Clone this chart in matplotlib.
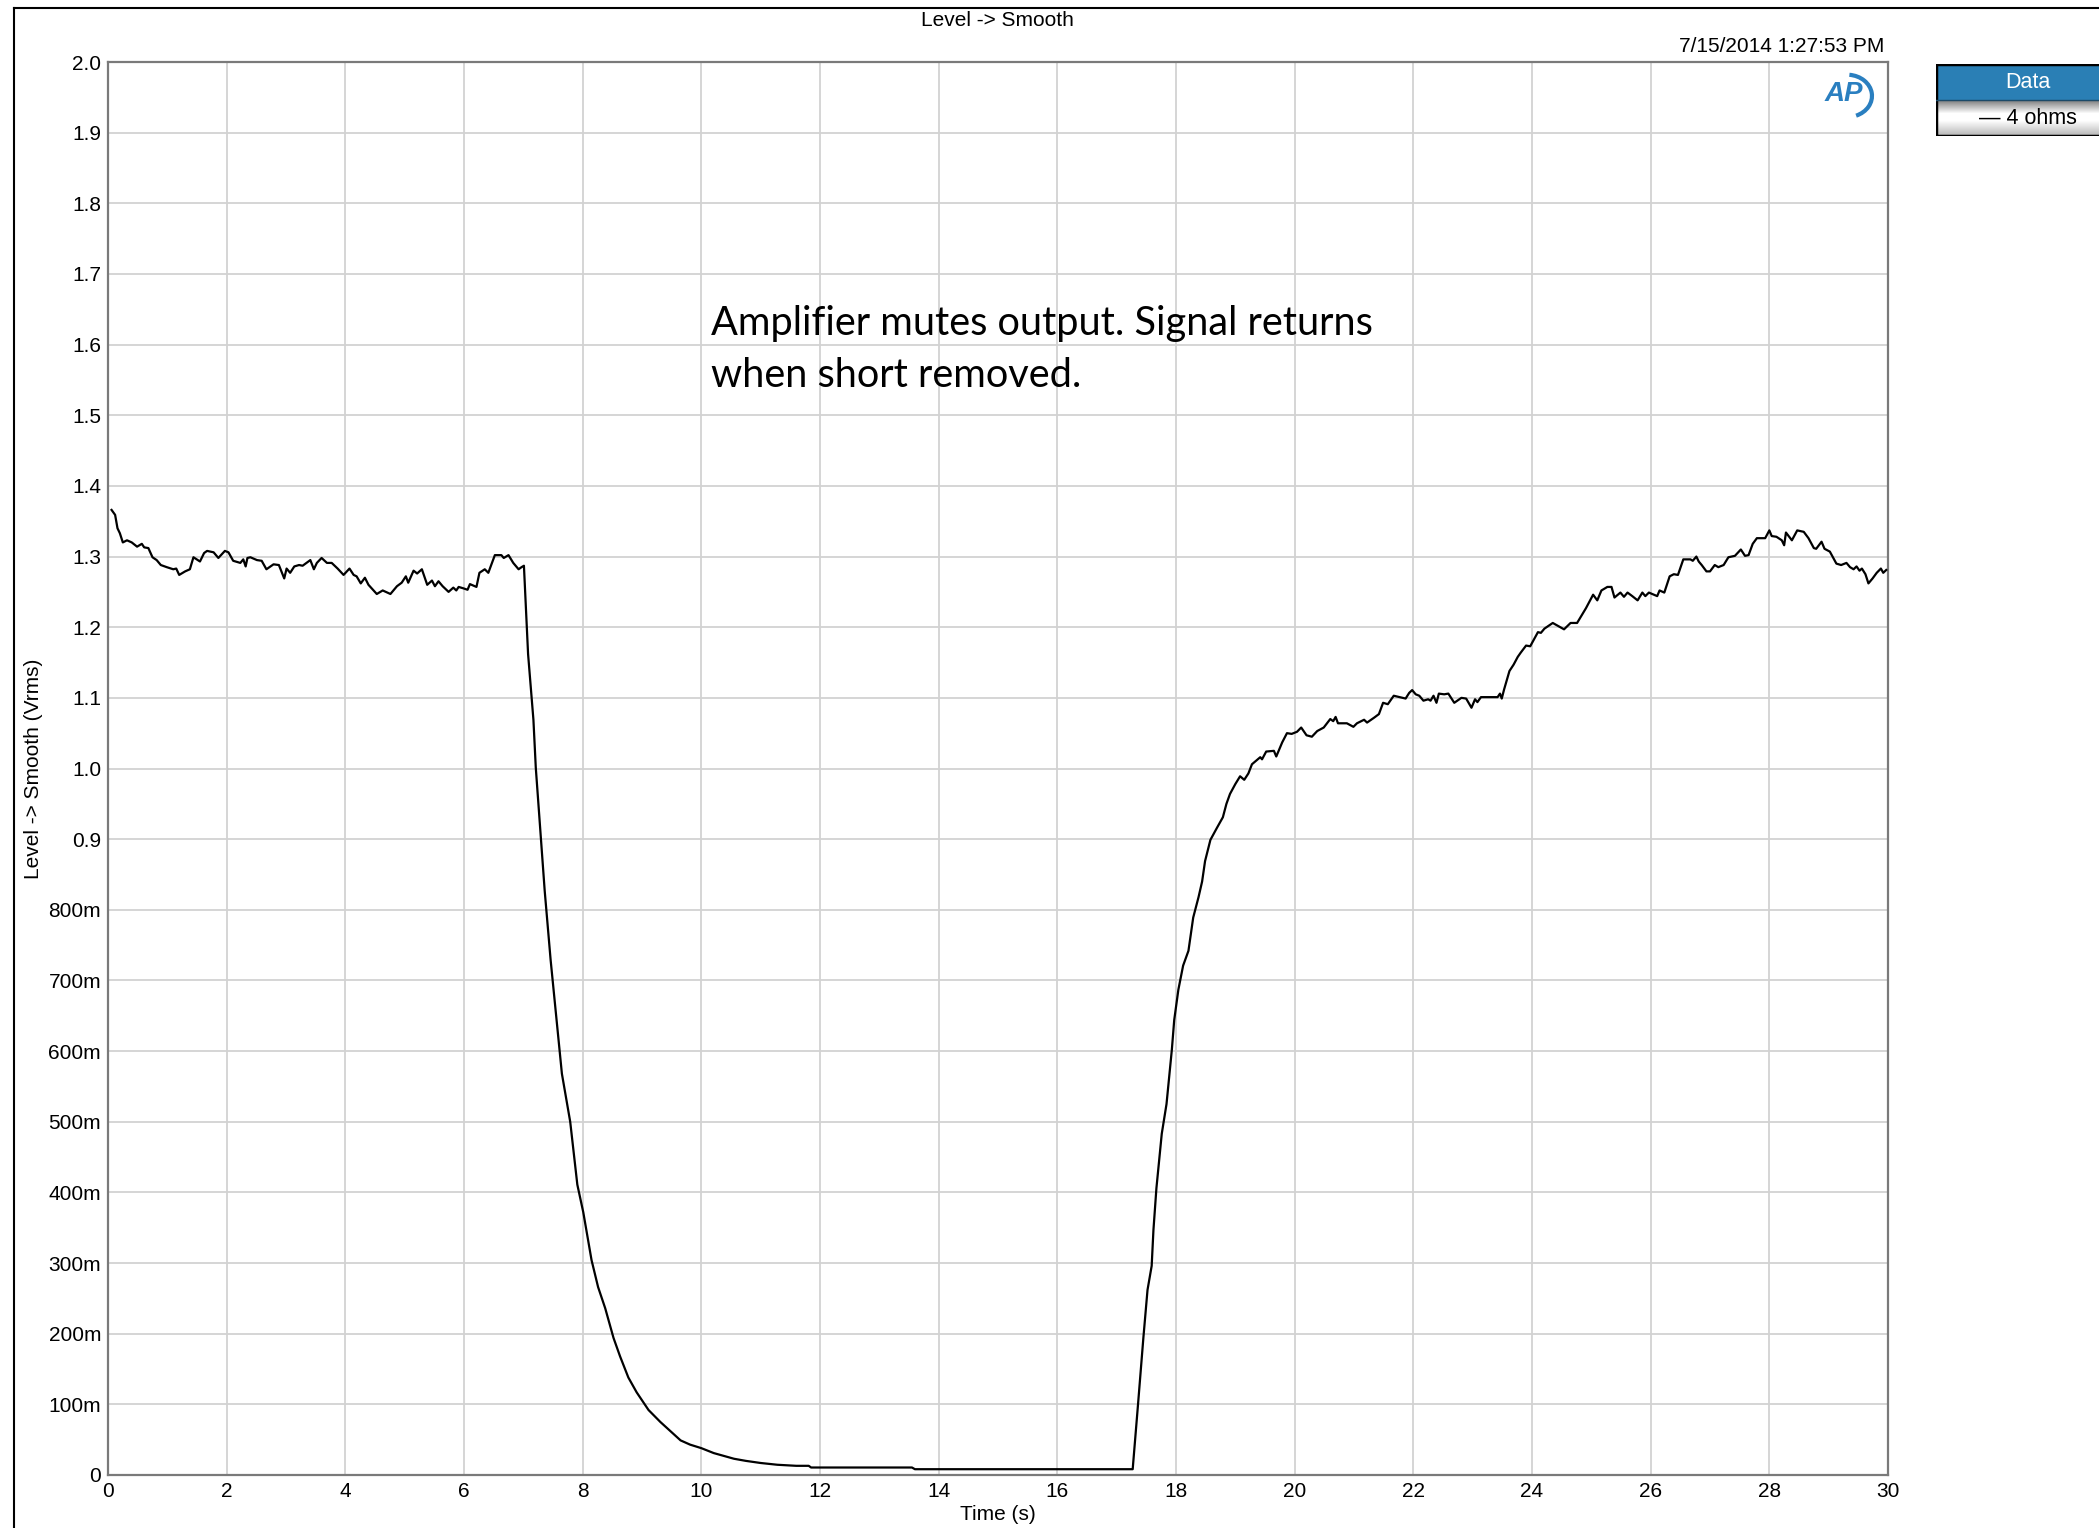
import numpy as np
import matplotlib
matplotlib.use("Agg")
import matplotlib.pyplot as plt
from matplotlib.lines import Line2D
from matplotlib.patches import Rectangle, Arc
from matplotlib.ticker import FixedLocator, FixedFormatter

# --- measured trace: Level -> Smooth, 4 ohm load ---
# before the short
t_hold = [0.06, 0.12, 0.16, 0.20, 0.25, 0.32, 0.40, 0.49, 0.57, 0.61, 0.68, 0.75, 0.82, 0.89,
          0.99, 1.10, 1.15, 1.20, 1.30, 1.38, 1.44, 1.55, 1.62, 1.67, 1.78, 1.86, 1.97, 2.03,
          2.11, 2.23, 2.28, 2.32, 2.35, 2.40, 2.51, 2.59, 2.67, 2.79, 2.88, 2.97, 3.01, 3.07,
          3.14, 3.22, 3.28, 3.41, 3.47, 3.52, 3.60, 3.69, 3.77, 3.87, 3.97, 4.07, 4.14, 4.19,
          4.26, 4.33, 4.39, 4.53, 4.63, 4.76, 4.87, 4.95, 5.02, 5.06, 5.15, 5.21, 5.29, 5.38,
          5.46, 5.51, 5.57, 5.64, 5.74, 5.82, 5.87, 5.91, 5.99, 6.06, 6.10, 6.21, 6.26, 6.35,
          6.41, 6.52, 6.63, 6.67, 6.75, 6.83, 6.92, 6.97, 7.01]
v_hold = [1.366, 1.359, 1.340, 1.333, 1.320, 1.323, 1.320, 1.314, 1.318, 1.313, 1.312, 1.299,
          1.295, 1.288, 1.285, 1.282, 1.283, 1.274, 1.279, 1.282, 1.299, 1.293, 1.305, 1.308,
          1.306, 1.298, 1.308, 1.306, 1.294, 1.291, 1.296, 1.286, 1.298, 1.299, 1.295, 1.294,
          1.282, 1.289, 1.288, 1.269, 1.283, 1.277, 1.286, 1.288, 1.287, 1.295, 1.282, 1.291,
          1.298, 1.291, 1.291, 1.283, 1.274, 1.283, 1.274, 1.272, 1.262, 1.270, 1.260, 1.247,
          1.252, 1.247, 1.258, 1.263, 1.272, 1.263, 1.280, 1.276, 1.282, 1.260, 1.266, 1.258,
          1.265, 1.258, 1.250, 1.256, 1.252, 1.257, 1.255, 1.253, 1.261, 1.257, 1.277, 1.282,
          1.277, 1.302, 1.302, 1.298, 1.302, 1.291, 1.282, 1.285, 1.287]

# output muted while shorted
t_mute = [7.08, 7.17, 7.21, 7.36, 7.46, 7.56, 7.65, 7.79, 7.91, 8.01, 8.08, 8.15, 8.26, 8.38,
          8.52, 8.63, 8.77, 8.91, 9.11, 9.31, 9.48, 9.65, 9.81, 10.00, 10.21, 10.38, 10.55,
          10.75, 11.00, 11.28, 11.60, 11.81, 11.85, 13.55, 13.60, 17.27]
v_mute = [1.162, 1.069, 1.001, 0.827, 0.729, 0.644, 0.568, 0.500, 0.411, 0.372, 0.338, 0.304,
          0.266, 0.236, 0.194, 0.168, 0.138, 0.117, 0.092, 0.075, 0.062, 0.049, 0.043, 0.038,
          0.031, 0.027, 0.023, 0.020, 0.017, 0.0145, 0.013, 0.013, 0.0106, 0.0106, 0.0082, 0.0082]

# recovery after the short is removed
t_back = [17.36, 17.45, 17.52, 17.59, 17.62, 17.67, 17.72, 17.76, 17.84, 17.90, 17.93, 17.97,
          18.04, 18.12, 18.21, 18.29, 18.38, 18.44, 18.49, 18.58, 18.69, 18.79, 18.85, 18.91,
          19.00, 19.08, 19.15, 19.22, 19.28, 19.35, 19.42, 19.45, 19.52, 19.65, 19.69, 19.79,
          19.87, 19.95, 20.04, 20.11, 20.20, 20.29, 20.38, 20.49, 20.60, 20.65, 20.69, 20.73,
          20.88, 20.99, 21.05, 21.17, 21.22, 21.34, 21.42, 21.49, 21.57, 21.67, 21.87, 21.93,
          21.98, 22.04, 22.10, 22.17, 22.25, 22.29, 22.34, 22.39, 22.43, 22.52, 22.59, 22.69,
          22.81, 22.89, 22.98, 23.04, 23.08, 23.14, 23.42, 23.46, 23.49, 23.53, 23.62, 23.69,
          23.76, 23.81, 23.90, 23.97, 24.10, 24.15, 24.21, 24.35, 24.54, 24.65, 24.76, 24.91,
          25.03, 25.10, 25.17, 25.27, 25.34, 25.39, 25.49, 25.55, 25.61, 25.69, 25.78, 25.86,
          25.91, 25.97, 26.11, 26.15, 26.23, 26.32, 26.39, 26.46, 26.55, 26.67, 26.71, 26.77,
          26.81, 26.86, 26.94, 27.00, 27.08, 27.14, 27.23, 27.31, 27.42, 27.52, 27.59, 27.65,
          27.72, 27.79, 27.93, 28.00, 28.04, 28.12, 28.21, 28.25, 28.28, 28.38, 28.47, 28.58,
          28.66, 28.75, 28.79, 28.88, 28.93, 29.02, 29.13, 29.21, 29.30, 29.36, 29.42, 29.47,
          29.52, 29.56, 29.62, 29.67, 29.74, 29.81, 29.88, 29.92, 29.97]
v_back = [0.100, 0.194, 0.262, 0.296, 0.347, 0.406, 0.449, 0.483, 0.525, 0.576, 0.602, 0.644,
          0.687, 0.721, 0.742, 0.789, 0.818, 0.840, 0.869, 0.899, 0.916, 0.931, 0.950, 0.964,
          0.978, 0.989, 0.984, 0.993, 1.006, 1.011, 1.016, 1.013, 1.024, 1.025, 1.017, 1.037,
          1.050, 1.049, 1.052, 1.058, 1.047, 1.045, 1.053, 1.058, 1.070, 1.067, 1.073, 1.064,
          1.064, 1.059, 1.064, 1.069, 1.065, 1.072, 1.077, 1.093, 1.091, 1.103, 1.099, 1.107,
          1.111, 1.105, 1.103, 1.096, 1.098, 1.096, 1.103, 1.093, 1.106, 1.105, 1.106, 1.093,
          1.100, 1.099, 1.086, 1.098, 1.094, 1.101, 1.101, 1.106, 1.099, 1.112, 1.138, 1.147,
          1.158, 1.164, 1.174, 1.173, 1.193, 1.192, 1.198, 1.206, 1.197, 1.206, 1.206, 1.227,
          1.246, 1.238, 1.252, 1.257, 1.257, 1.242, 1.249, 1.243, 1.249, 1.244, 1.238, 1.249,
          1.244, 1.249, 1.244, 1.252, 1.249, 1.272, 1.275, 1.274, 1.296, 1.296, 1.294, 1.300,
          1.293, 1.288, 1.279, 1.279, 1.288, 1.285, 1.288, 1.299, 1.301, 1.310, 1.301, 1.302,
          1.318, 1.326, 1.326, 1.337, 1.329, 1.328, 1.323, 1.316, 1.334, 1.323, 1.337, 1.335,
          1.326, 1.312, 1.311, 1.321, 1.311, 1.307, 1.290, 1.288, 1.291, 1.285, 1.282, 1.286,
          1.280, 1.283, 1.275, 1.262, 1.269, 1.277, 1.283, 1.277, 1.281]

y_ticks = [0.0, 0.1, 0.2, 0.3, 0.4, 0.5, 0.6, 0.7, 0.8, 0.9, 1.0, 1.1, 1.2, 1.3, 1.4, 1.5,
           1.6, 1.7, 1.8, 1.9, 2.0]
y_tick_labels = ["0", "100m", "200m", "300m", "400m", "500m", "600m", "700m", "800m", "0.9",
                 "1.0", "1.1", "1.2", "1.3", "1.4", "1.5", "1.6", "1.7", "1.8", "1.9", "2.0"]
x_ticks = list(range(0, 31, 2))

t = np.array(t_hold + t_mute + t_back)
v = np.array(v_hold + v_mute + v_back)

W, H = 2099, 1528
FS = 15
plt.rcParams["font.family"] = ["Liberation Sans", "DejaVu Sans"]
fig = plt.figure(figsize=(W / 100, H / 100), dpi=100)

ax = fig.add_axes([108 / W, 1 - 1475 / H, (1888 - 108) / W, (1475 - 62) / H])
ax.plot(t, v, color="black", lw=1.6, zorder=3)
ax.set_xlim(0, 30)
ax.set_ylim(0, 2.0)
ax.xaxis.set_major_locator(FixedLocator(x_ticks))
ax.yaxis.set_major_locator(FixedLocator(y_ticks))
ax.yaxis.set_major_formatter(FixedFormatter(y_tick_labels))
ax.grid(True, color="#d2d2d2", lw=1.3)
ax.set_axisbelow(True)
ax.tick_params(length=0, labelsize=FS, pad=5)
for s in ax.spines.values():
    s.set_color("#7a7a7a")
    s.set_linewidth(1.6)

ax.set_xlabel("Time (s)", fontsize=FS, labelpad=3)
ax.set_ylabel("Level -> Smooth (Vrms)", fontsize=FS, labelpad=4)
fig.text(997 / W, 1 - 21 / H, "Level -> Smooth", ha="center", va="center", fontsize=FS)
fig.text(1884 / W, 1 - 46 / H, "7/15/2014 1:27:53 PM", ha="right", va="center", fontsize=FS)

# annotation
note_font = ["Lato", "DejaVu Sans"]
ax.text(10.16, 1.614, "Amplifier mutes output. Signal returns", fontsize=28.6,
        family=note_font, va="baseline", ha="left")
ax.text(10.16, 1.540, "when short removed.", fontsize=28.6,
        family=note_font, va="baseline", ha="left")

# AP badge in the corner
ap_blue = "#2a7fc0"
ax.text(0.975, 0.977, "AP", transform=ax.transAxes, ha="center", va="center",
        fontsize=20, fontweight="bold", style="italic", color=ap_blue)
ax.add_patch(Arc((0.977, 0.976), 0.028, 0.030, theta1=-70, theta2=85,
                 transform=ax.transAxes, color=ap_blue, lw=3))

# outer frame
fig.add_artist(Line2D([14 / W, 1.0], [1 - 8 / H] * 2, color="black", lw=1.5))
fig.add_artist(Line2D([14 / W] * 2, [0.0, 1 - 8 / H], color="black", lw=1.5))

# legend panel
lg = fig.add_axes([1936 / W, 1 - 136 / H, 200 / W, 72 / H])
lg.set_xlim(0, 200)
lg.set_ylim(0, 72)
lg.axis("off")
lg.add_patch(Rectangle((0, 36), 200, 36, facecolor="#2a7fb5", edgecolor="none"))
shade = np.concatenate([np.linspace(0.50, 1.0, 14), np.ones(6), np.linspace(1.0, 0.72, 16)])
lg.imshow(shade[:, None], cmap="gray", vmin=0, vmax=1, aspect="auto",
          extent=(0, 200, 0, 36), interpolation="bilinear")
lg.add_patch(Rectangle((0, 0), 200, 72, facecolor="none", edgecolor="black", lw=2.5))
lg.plot([0, 200], [36, 36], color="#1c4a68", lw=1)
lg.text(92, 54, "Data", color="white", ha="center", va="center", fontsize=15.5)
lg.text(92, 18, "\u2014 4 ohms", color="black", ha="center", va="center", fontsize=15.5)

fig.savefig("out.png", dpi=100)
